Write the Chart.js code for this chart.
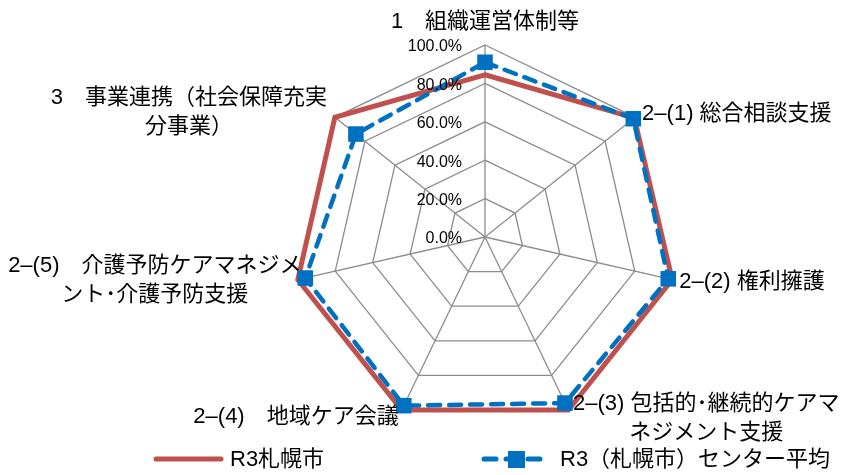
<!DOCTYPE html>
<html lang="ja">
<head>
<meta charset="utf-8">
<title>R3 札幌市 レーダーチャート</title>
<script src="https://cdn.jsdelivr.net/npm/chart.js@4.4.1/dist/chart.umd.min.js"></script>
<style>
    html, body { margin: 0; padding: 0; background: #fff; }
    #wrap { position: relative; width: 859px; height: 475px; }
</style>
</head>
<body>
<div id="wrap"><canvas id="radarChart"></canvas></div>
<script>
// Axis categories (each one a list of lines)
const categories = [
    ['1　組織運営体制等'],
    ['2–(1) 総合相談支援'],
    ['2–(2) 権利擁護'],
    ['2–(3) 包括的･継続的ケアマ', 'ネジメント支援'],
    ['2–(4)　地域ケア会議'],
    ['2–(5)　介護予防ケアマネジメ', 'ント･介護予防支援'],
    ['3　事業連携（社会保障充実', '分事業）']
];

// Series values (percent)
const seriesNames = ['R3札幌市', 'R3（札幌市）センター平均'];
const sapporoValues = [84.5, 99.5, 100, 100, 100, 100, 100];
const centerAvgValues = [91, 98.8, 97.9, 96, 97.5, 96, 86];

// Radial tick labels
const tickValues = [0, 20, 40, 60, 80, 100];

const RED = '#C0504D';
const BLUE = '#0070C0';
const GRID = '#8C8C8C';
const FONT_FAMILY = '"Liberation Sans", "Noto Sans CJK JP", sans-serif';
const LABEL_FONT = '22px ' + FONT_FAMILY;
const LINE_H = 29;

// Where each category label sits relative to its outer vertex
const labelLayout = [
    { align: 'center', dx: 0, dy: -23 },
    { align: 'left', dx: 7, dy: -3 },
    { align: 'left', dx: 7, dy: 2 },
    { align: 'center', dx: 138, dy: -6.5 },
    { align: 'right', dx: -3, dy: 7 },
    { align: 'center', dx: -143, dy: -14 },
    { align: 'center', dx: -146, dy: -19 }
];

// Draw tick labels, category labels and the legend on the canvas
const textPlugin = {
    id: 'radarText',
    afterDatasetsDraw(chart) {
        const scale = chart.scales.r;
        const ctx = chart.ctx;
        ctx.save();
        ctx.fillStyle = '#000';
        ctx.textBaseline = 'middle';

        // tick labels left of the vertical spoke
        ctx.font = '16px ' + FONT_FAMILY;
        ctx.textAlign = 'right';
        tickValues.forEach(v => {
            const p = scale.getPointPositionForValue(0, v);
            ctx.fillText(v.toFixed(1) + '%', p.x - 23, p.y + 2);
        });

        // category labels
        ctx.font = LABEL_FONT;
        chart.data.labels.forEach((lines, i) => {
            const p = scale.getPointPosition(i, scale.drawingArea);
            const lay = labelLayout[i];
            ctx.textAlign = lay.align;
            lines.forEach((line, j) => {
                ctx.fillText(line, p.x + lay.dx, p.y + lay.dy + j * LINE_H);
            });
        });
        ctx.restore();
    },
    afterDraw(chart) {
        const ctx = chart.ctx;
        const ds = chart.data.datasets;
        const y = 459;
        ctx.save();

        // red solid line item
        ctx.strokeStyle = ds[0].borderColor;
        ctx.lineWidth = 5;
        ctx.lineCap = 'round';
        ctx.beginPath();
        ctx.moveTo(156, y);
        ctx.lineTo(221, y);
        ctx.stroke();

        // blue dashed line with square marker
        ctx.strokeStyle = ds[1].borderColor;
        ctx.setLineDash([12, 10]);
        ctx.beginPath();
        ctx.moveTo(484, y);
        ctx.lineTo(546, y);
        ctx.stroke();
        ctx.setLineDash([]);
        ctx.fillStyle = ds[1].pointBackgroundColor;
        ctx.fillRect(508, y - 8, 17, 17);

        ctx.fillStyle = '#000';
        ctx.font = LABEL_FONT;
        ctx.textAlign = 'left';
        ctx.textBaseline = 'middle';
        ctx.fillText(ds[0].label, 230, y + 1);
        ctx.fillText(ds[1].label, 560, y + 1);
        ctx.restore();
    }
};

const ctx = document.getElementById('radarChart').getContext('2d');
new Chart(ctx, {
    type: 'radar',
    data: {
        labels: categories,
        datasets: [{
            label: seriesNames[0],
            data: sapporoValues,
            borderColor: RED,
            backgroundColor: 'transparent',
            borderWidth: 5,
            pointRadius: 0,
            fill: false,
            order: 2
        }, {
            label: seriesNames[1],
            data: centerAvgValues,
            borderColor: BLUE,
            backgroundColor: 'transparent',
            pointBackgroundColor: BLUE,
            pointBorderColor: BLUE,
            borderWidth: 4.5,
            borderDash: [12, 9],
            borderCapStyle: 'round',
            pointStyle: 'rect',
            pointRadius: 11,
            pointBorderWidth: 0,
            fill: false,
            order: 1
        }]
    },
    options: {
        responsive: true,
        maintainAspectRatio: false,
        animation: false,
        layout: { padding: { left: 200, right: 89, top: 45, bottom: 46 } },
        plugins: {
            legend: { display: false },
            tooltip: { enabled: false }
        },
        scales: {
            r: {
                min: 0,
                max: 100,
                startAngle: 0,
                ticks: { display: false, stepSize: 20 },
                grid: { color: GRID, lineWidth: 1.3 },
                angleLines: { color: GRID, lineWidth: 1.3 },
                pointLabels: { display: false }
            }
        }
    },
    plugins: [textPlugin]
});
</script>
</body>
</html>
